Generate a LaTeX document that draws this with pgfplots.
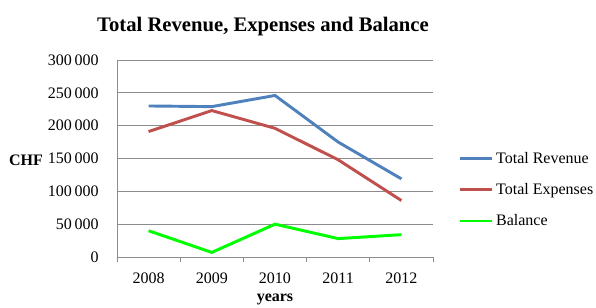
\documentclass[border=0pt]{standalone}
\usepackage{fontspec}
\setmainfont{Liberation Serif}
\usepackage{pgfplots}
\pgfplotsset{compat=1.18}
\definecolor{rev}{HTML}{4F81BD}
\definecolor{exp}{HTML}{C0504D}
\definecolor{bal}{HTML}{00FF00}
\definecolor{gridc}{HTML}{8C8C8C}
\begin{document}
\begin{tikzpicture}
\useasboundingbox (-87.75pt,-37.5pt) rectangle (359.25pt,192.75pt);
\begin{axis}[
  at={(0pt,0pt)}, anchor=south west,
  scale only axis,
  width=237pt, height=147.75pt,
  xmin=-0.5, xmax=4.5,
  ymin=0, ymax=300000,
  axis lines*=left,
  axis line style={gridc, line width=0.6pt},
  xtick={0,1,2,3,4},
  xticklabels={2008,2009,2010,2011,2012},
  minor xtick={-0.5,0.5,1.5,2.5,3.5,4.5},
  major x tick style={draw=none},
  minor x tick style={gridc, line width=0.6pt},
  minor tick length=4pt,
  tick align=outside,
  ytick={0,50000,100000,150000,200000,250000,300000},
  major y tick style={draw=none},
  ymajorgrids,
  major grid style={gridc, line width=0.6pt},
  scaled y ticks=false,
  /pgf/number format/assume math mode=true,
  yticklabel style={/pgf/number format/.cd, fixed, 1000 sep={\,}, /tikz/.cd, font=\fontsize{12}{14}\selectfont, xshift=-6pt},
  xticklabel style={font=\fontsize{12}{14}\selectfont, yshift=-4pt},
  title={\textbf{Total Revenue, Expenses and Balance}},
  title style={at={(rel axis cs:0.462,1.105)}, anchor=base, font=\fontsize{15.5}{18}\selectfont},
  xlabel={\textbf{years}},
  xlabel style={at={(rel axis cs:0.5,-0.215)}, anchor=center, font=\fontsize{12}{14}\selectfont},
  ylabel={\textbf{CHF}},
  ylabel style={at={(rel axis cs:-0.288,0.492)}, anchor=center, rotate=-90, font=\fontsize{12}{14}\selectfont},
  legend style={draw=none, fill=none, at={(rel axis cs:1.08,0.548)}, anchor=north west, font=\fontsize{12}{14}\selectfont, row sep=9.6pt, inner sep=0pt},
  legend cell align=left,
  legend image code/.code={\draw[#1] (0pt,0pt) -- (24pt,0pt);},
  every axis plot/.append style={line width=2.2pt},
]
\addplot[rev] coordinates {(0,230000) (1,229000) (2,246000) (3,175000) (4,119000)};
\addlegendentry{Total Revenue}
\addplot[exp] coordinates {(0,191000) (1,223000) (2,196000) (3,148000) (4,86000)};
\addlegendentry{Total Expenses}
\addplot[bal] coordinates {(0,40000) (1,7000) (2,50000) (3,28000) (4,34000)};
\addlegendentry{Balance}
\end{axis}
\end{tikzpicture}
\end{document}
